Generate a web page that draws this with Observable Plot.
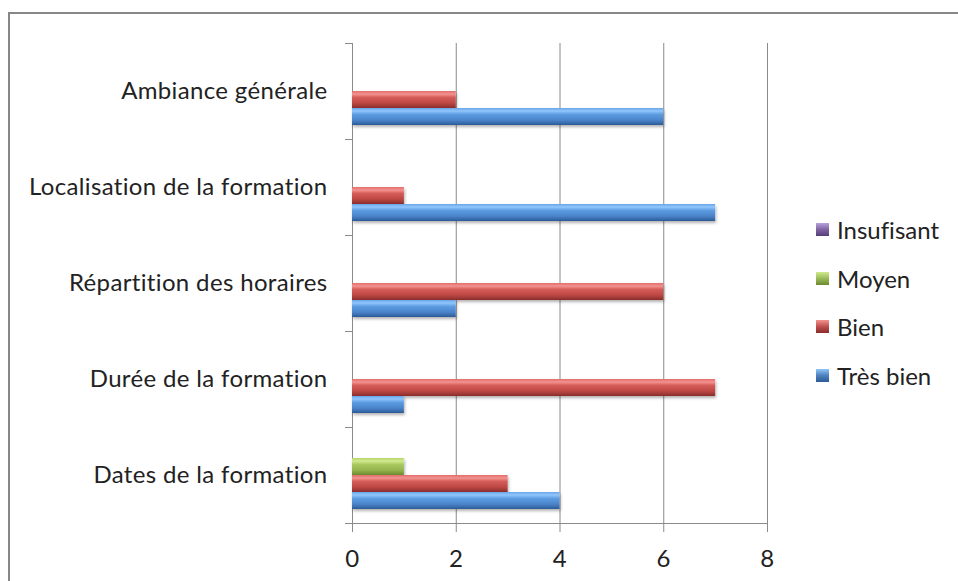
<!DOCTYPE html>
<html>
<head>
<meta charset="utf-8">
<script src="https://cdn.jsdelivr.net/npm/d3@7"></script>
<script src="https://cdn.jsdelivr.net/npm/@observablehq/plot@0.6"></script>
<style>
  html, body { margin: 0; padding: 0; background: #fff; overflow: hidden; width: 958px; height: 581px; }
  #frame { position: absolute; left: 8px; top: 12px; width: 2000px; height: 2000px; border-top: 2px solid #878787; border-left: 2px solid #878787; }
  #chart { position: absolute; left: 0; top: 0; }
  #legend { position: absolute; left: 816px; top: 205px; font-family: Lato, "Open Sans", sans-serif; font-size: 24px; color: #222; font-variant-ligatures: none; }
  .item { display: flex; align-items: center; height: 48.7px; }
  .sw { width: 13px; height: 13px; margin-right: 8px; box-sizing: border-box; }
</style>
</head>
<body>
<div id="frame"></div>
<div id="chart"></div>
<div id="legend"></div>
<script>
const categories = ["Ambiance générale", "Localisation de la formation", "Répartition des horaires", "Durée de la formation", "Dates de la formation"];
const series = ["Insufisant", "Moyen", "Bien", "Très bien"];
const insufisant = [0, 0, 0, 0, 0];
const moyen = [0, 0, 0, 0, 1];
const bien = [2, 1, 6, 7, 3];
const tresBien = [6, 7, 2, 1, 4];
const xTicks = [0, 2, 4, 6, 8];
const gradIds = ["gP", "gG", "gR", "gB"];
const gradStops = [
  ["#9c82c2", "#b9a2dc", "#8a6db0", "#75599b", "#553d78"],
  ["#b6d56e", "#d0ea8e", "#a9c960", "#93b44d", "#6b8a2f"],
  ["#e06c6a", "#f4938f", "#d45c59", "#bb4744", "#8a2c2a"],
  ["#6aa6ea", "#90c6fa", "#5d9ce2", "#4a83c9", "#2c5b97"]
];
const swatchColors = ["#8064a2", "#9bbb59", "#c0504d", "#4f81bd"];

const valuesBySeries = [insufisant, moyen, bien, tresBien];
const data = categories.flatMap((c, i) => series.map((s, k) => ({cat: c, series: s, value: valuesBySeries[k][i]})));

const font = 'Lato, "Open Sans", sans-serif';
const axisColor = "#8a8a8a";

const chart = Plot.plot({
  width: 958,
  height: 581,
  marginLeft: 352,
  marginRight: 191,
  marginTop: 43,
  marginBottom: 58,
  style: {fontFamily: font, fontSize: "24px", color: "#222", background: "transparent", overflow: "visible", fontVariantLigatures: "none", letterSpacing: "0.35px"},
  x: {domain: [0, 8]},
  y: {domain: series, paddingInner: 0, paddingOuter: 0.78, axis: null},
  fy: {domain: categories, padding: 0},
  color: {domain: series, range: gradIds.map(id => `url(#${id})`)},
  marks: [
    Plot.gridX(xTicks.slice(1), {stroke: axisColor, strokeOpacity: 1}),
    Plot.ruleX([0], {stroke: axisColor}),
    Plot.frame({anchor: "top", insetLeft: -7, insetRight: 415, stroke: axisColor}),
    Plot.frame({anchor: "bottom", insetLeft: -7, stroke: axisColor, facetAnchor: "bottom"}),
    Plot.barX(data, {fy: "cat", y: "series", x: "value", fill: "series"}),
    Plot.axisFy({anchor: "left", tickSize: 0, tickPadding: 25, fontSize: 24, label: null}),
    Plot.axisX({ticks: xTicks, tickSize: 9, tickPadding: 17, fontSize: 24, label: null, stroke: axisColor})
  ]
});

const defs = `<defs>
${gradIds.map((id, k) => `<linearGradient id="${id}" x1="0" y1="0" x2="0" y2="1">
  <stop offset="0" stop-color="${gradStops[k][0]}"/>
  <stop offset="0.18" stop-color="${gradStops[k][1]}"/>
  <stop offset="0.38" stop-color="${gradStops[k][2]}"/>
  <stop offset="0.72" stop-color="${gradStops[k][3]}"/>
  <stop offset="1" stop-color="${gradStops[k][4]}"/>
</linearGradient>`).join("")}
<filter id="shadow" x="-5%" y="-30%" width="110%" height="180%">
  <feDropShadow dx="1" dy="2" stdDeviation="1.5" flood-color="#000" flood-opacity="0.3"/>
</filter>
</defs>`;
chart.insertAdjacentHTML("afterbegin", defs);
chart.querySelectorAll('g[aria-label="bar"]').forEach(g => g.setAttribute("filter", "url(#shadow)"));
chart.querySelectorAll('g[aria-label="fy-axis tick label"] text, g[aria-label="x-axis tick label"] text').forEach(t => t.setAttribute("fill", "#222"));
document.getElementById("chart").appendChild(chart);

const legend = document.getElementById("legend");
series.forEach((s, k) => {
  const item = document.createElement("div");
  item.className = "item";
  const sw = document.createElement("div");
  sw.className = "sw";
  sw.style.background = `linear-gradient(${gradStops[k][1]}, ${swatchColors[k]} 50%, ${gradStops[k][4]})`;
  const label = document.createElement("span");
  label.textContent = s;
  item.appendChild(sw);
  item.appendChild(label);
  legend.appendChild(item);
});
</script>
</body>
</html>
